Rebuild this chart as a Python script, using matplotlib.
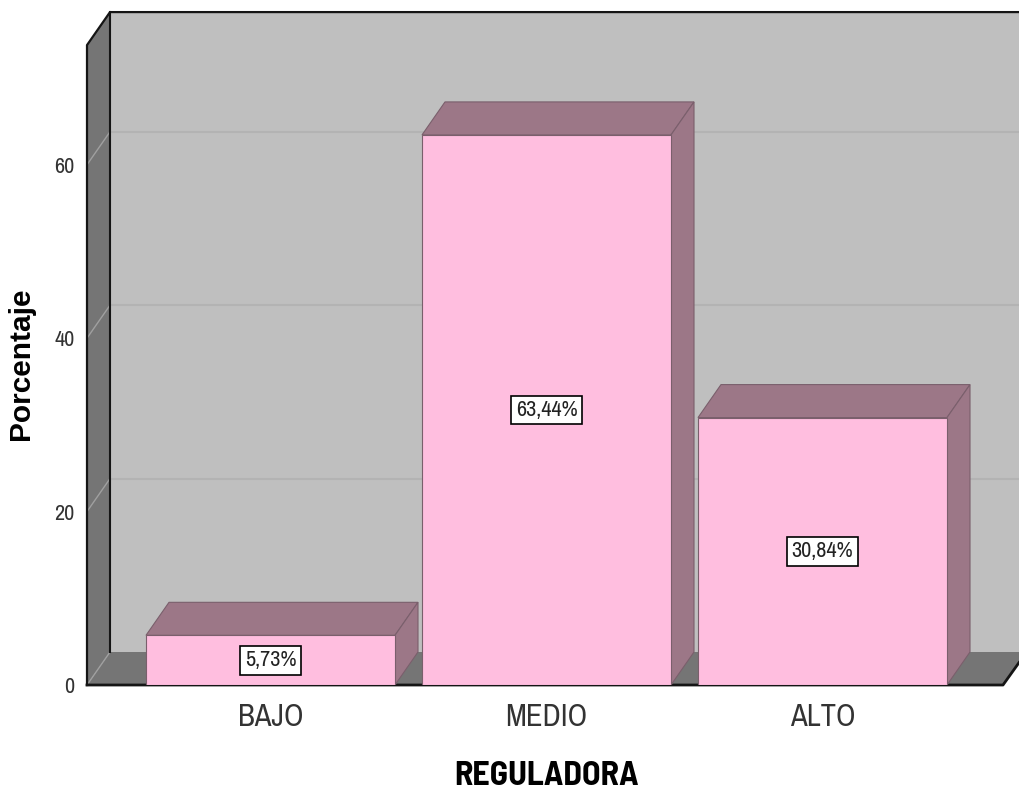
import matplotlib
matplotlib.use('Agg')
import matplotlib.pyplot as plt
from matplotlib.patches import Polygon

categorias = ['BAJO', 'MEDIO', 'ALTO']
porcentajes = [5.73, 63.44, 30.84]
etiquetas = ['5,73%', '63,44%', '30,84%']
y_ticks = [0, 20, 40, 60]

# tamano y estilo del efecto 3d
W, H = 1019, 789
IZQ, ABAJO = 87, 685
PX_CAT, PX_Y = 276.0, 685 / 79
ANCHO = 249 / PX_CAT
DX, DY = 23 / PX_CAT, 33 / PX_Y
Y_MAX = 73.8
ROSA, MALVA = '#FFBEDF', '#9C7787'
BORDE = '#7A5F6C'
PARED, LADO, GRID = '#BFBFBF', '#757575', '#B3B3B3'
NARROW = ['Archivo Narrow', 'Liberation Sans', 'DejaVu Sans']
NARROW_B = ['Barlow Semi Condensed', 'Liberation Sans', 'DejaVu Sans']

fig = plt.figure(figsize=(W / 100, H / 100), dpi=100)
ax = fig.add_axes([IZQ / W, (H - ABAJO) / H, (W - IZQ) / W, ABAJO / H])
x0 = (IZQ - 270.5) / PX_CAT
x1 = (W - 270.5) / PX_CAT
x_fin = x1 - 16 / PX_CAT
ax.set_xlim(x0, x1)
ax.set_ylim(0, 79)

# paredes y piso
ax.add_patch(Polygon([(x0 + DX, DY), (x1 + DX, DY), (x1 + DX, Y_MAX + DY), (x0 + DX, Y_MAX + DY)],
                     fc=PARED, ec='none', zorder=1))
ax.add_patch(Polygon([(x0, 0), (x0 + DX, DY), (x0 + DX, Y_MAX + DY), (x0, Y_MAX)],
                     fc=LADO, ec='none', zorder=1))
ax.add_patch(Polygon([(x0, 0), (x_fin, 0), (x_fin + DX, DY), (x0 + DX, DY)],
                     fc=LADO, ec='none', zorder=1))

# lineas de la cuadricula
for t in y_ticks[1:]:
    ax.plot([x0 + DX, x1], [t + DY, t + DY], color=GRID, lw=1.5, zorder=2)
    ax.plot([x0, x0 + DX], [t, t + DY], color='#A0A0A0', lw=1, zorder=2)
ax.plot([x0, x0 + DX], [0, DY], color='#A0A0A0', lw=1, zorder=2)

# bordes negros
ax.plot([x0, x0, x0 + DX, x1], [0, Y_MAX, Y_MAX + DY, Y_MAX + DY], color='#151515', lw=1.6, zorder=3, clip_on=False)
ax.plot([x0 + DX, x0 + DX], [DY, Y_MAX + DY], color='#151515', lw=1.5, zorder=3)
ax.plot([x0, x_fin, x1], [0, 0, 16 / PX_Y * 1.4], color='#151515', lw=2, zorder=3, clip_on=False)

# barras con su cara superior y lateral
xs = list(range(len(categorias)))
ax.bar(xs, porcentajes, width=ANCHO, color=ROSA, edgecolor=BORDE, lw=0.8, zorder=5)
for x, v, lab in zip(xs, porcentajes, etiquetas):
    l, r = x - ANCHO / 2, x + ANCHO / 2
    ax.add_patch(Polygon([(l, v), (r, v), (r + DX, v + DY), (l + DX, v + DY)],
                         fc=MALVA, ec=BORDE, lw=0.8, zorder=4))
    ax.add_patch(Polygon([(r, 0), (r + DX, DY), (r + DX, v + DY), (r, v)],
                         fc=MALVA, ec=BORDE, lw=0.8, zorder=4))
    ax.text(x, v / 2, lab, ha='center', va='center', fontsize=16, family=NARROW, color='#222222', zorder=7,
            bbox=dict(boxstyle='square,pad=0.2', fc='white', ec='black', lw=1.2))

ax.set_xticks(xs)
ax.set_xticklabels(categorias, fontsize=22, family=NARROW, color='#333333')
ax.set_yticks(y_ticks)
ax.set_yticklabels([str(t) for t in y_ticks], fontsize=16, family=NARROW, color='#333333')
ax.tick_params(axis='x', length=0, pad=13)
ax.tick_params(axis='y', length=0, pad=9)
for s in ax.spines.values():
    s.set_visible(False)

ax.set_xlabel('REGULADORA', fontsize=24.5, fontweight='bold', family=NARROW_B)
ax.xaxis.set_label_coords((547 - IZQ) / (W - IZQ), (ABAJO - 761) / ABAJO)
ax.set_ylabel('Porcentaje', fontsize=21.5, fontweight='bold', family=['Liberation Sans', 'DejaVu Sans'])
ax.yaxis.set_label_coords((35 - IZQ) / (W - IZQ), (ABAJO - 364) / ABAJO)

fig.savefig('out.png', dpi=100, facecolor='white')
